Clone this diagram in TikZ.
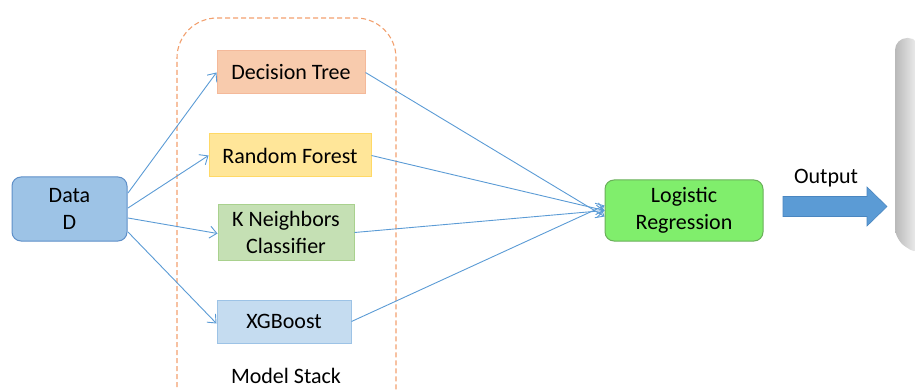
\documentclass[tikz,border=0pt]{standalone}
\usepackage{fontspec}
\setmainfont{Carlito}
\usetikzlibrary{arrows.meta}
\definecolor{lineblue}{HTML}{5B9BD5}
\definecolor{datafill}{HTML}{9DC3E6}
\definecolor{dataedge}{HTML}{5E8FC8}
\definecolor{dtfill}{HTML}{F8CBAD}
\definecolor{dtedge}{HTML}{F4B99A}
\definecolor{rffill}{HTML}{FFE699}
\definecolor{rfedge}{HTML}{FFD966}
\definecolor{knfill}{HTML}{C5E0B4}
\definecolor{knedge}{HTML}{A9D18E}
\definecolor{xgfill}{HTML}{C5DCF0}
\definecolor{xgedge}{HTML}{9DC3E6}
\definecolor{lrfill}{HTML}{80EE6C}
\definecolor{lredge}{HTML}{6AAF5A}
\definecolor{stackedge}{HTML}{F2A06E}
\definecolor{outblue}{HTML}{5B9BD5}
\definecolor{outedge}{HTML}{4A86C0}
\tikzset{
  base/.style={font=\fontsize{22}{27}\selectfont, align=center, inner sep=0pt, line width=1pt},
  model/.style={base, draw, minimum height=43pt},
  conn/.style={draw=lineblue, line width=0.9pt, -{Straight Barb[length=7pt,width=12pt,line width=0.9pt]}},
}
\begin{document}
\begin{tikzpicture}[x=1pt,y=-1pt]
\useasboundingbox (0,0) rectangle (915,390);
% right gray fragment
\shade[left color=gray!55, right color=gray!8, rounded corners=12pt] (895,38) -- (920,38) -- (920,256) -- (895,240) -- cycle;
% model stack frame
\draw[stackedge, line width=1.1pt, dash pattern=on 5pt off 3pt, rounded corners=40pt] (177,395) -- (177,18) -- (396,18) -- (396,395);
\node[base, anchor=base] (stacklabel) at (286,383) {Model Stack};
% nodes
\node[base, draw=dataedge, fill=datafill, rounded corners=9pt, minimum width=115pt, minimum height=64pt] (data) at (69.5,209) {Data\\D};
\node[model, draw=dtedge, fill=dtfill, minimum width=148pt] (dt) at (291,72.5) {Decision Tree};
\node[model, draw=rfedge, fill=rffill, minimum width=162pt] (rf) at (290,155.5) {Random Forest};
\node[model, draw=knedge, fill=knfill, minimum width=136pt, minimum height=55pt] (kn) at (286,232.5) {K Neighbors\\Classifier};
\node[model, draw=xgedge, fill=xgfill, minimum width=134pt] (xg) at (284,321.5) {XGBoost};
\node[base, draw=lredge, fill=lrfill, rounded corners=9pt, minimum width=158pt, minimum height=61pt] (lr) at (684,210.5) {Logistic\\Regression};
% output arrow
\draw[fill=outblue, draw=outedge, line width=0.6pt, line join=miter] (783,196.5) -- (867,196.5) -- (867,187) -- (887,206.5) -- (867,226) -- (867,216.5) -- (783,216.5) -- cycle;
\node[base, anchor=base] (outlabel) at (826,184) {Output};
% connector start points on Data
\coordinate (d1) at (128,193);
\coordinate (d2) at (128,208);
\coordinate (d3) at (128,218);
\coordinate (d4) at (128,232);
% connectors
\draw[conn] (d1) -- (dt.west);
\draw[conn] (d2) -- (rf.west);
\draw[conn] (d3) -- ([yshift=-1pt]kn.west);
\draw[conn] (d4) -- ([yshift=-2pt]xg.west);
\draw[conn] (dt.east) -- ([yshift=-6pt]lr.west);
\draw[conn] (rf.east) -- ([yshift=0pt]lr.west);
\draw[conn] (kn.east) -- ([yshift=0pt]lr.west);
\draw[conn] (xg.east) -- ([yshift=5pt]lr.west);
\end{tikzpicture}
\end{document}
